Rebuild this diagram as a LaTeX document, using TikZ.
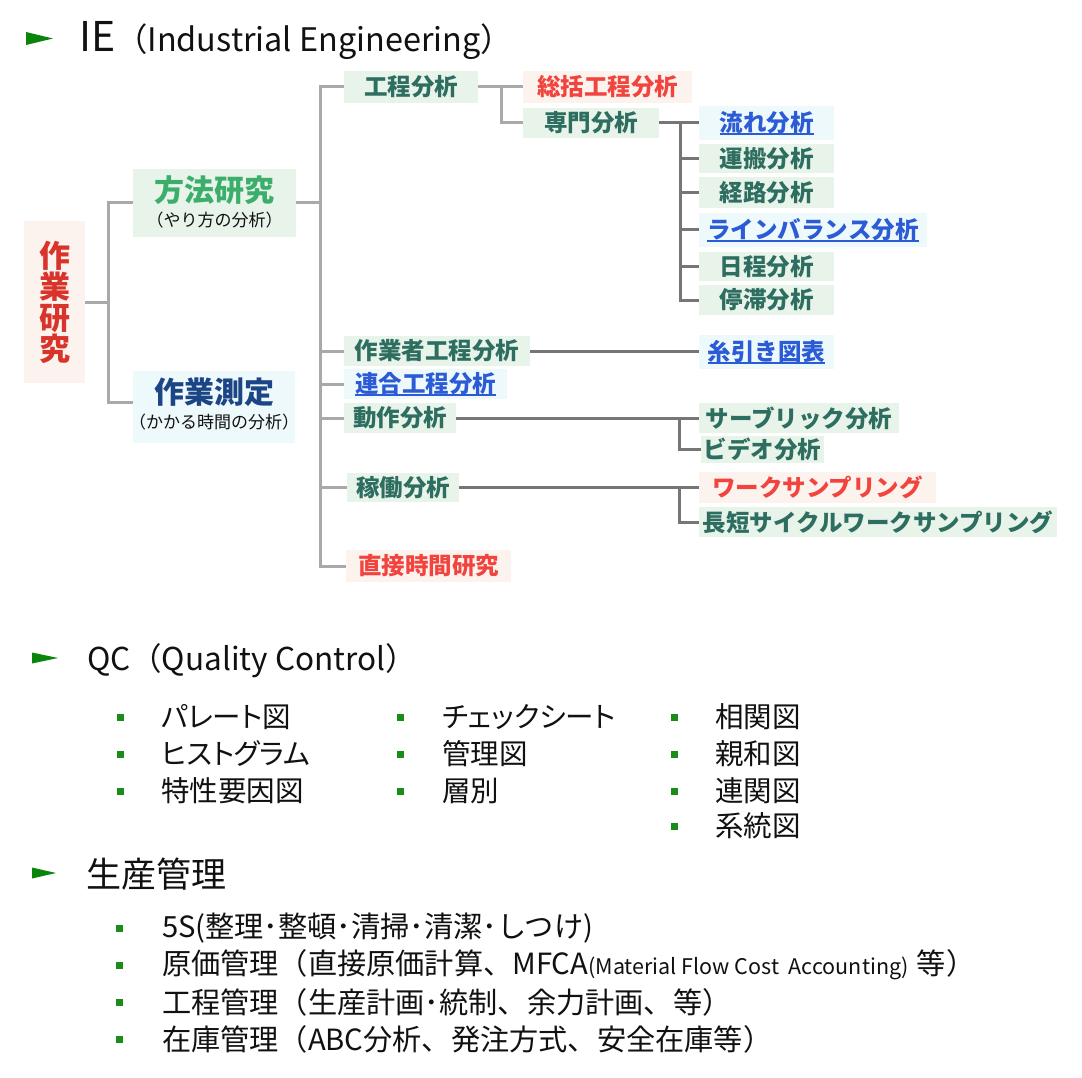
\documentclass[tikz,border=0pt]{standalone}
\usepackage{fontspec}
\setmainfont{Noto Sans CJK JP}
\newfontfamily\pfont{Noto Sans CJK JP}[RawFeature=+palt]
\newcommand\fs[1]{\fontsize{#1}{#1}\selectfont}
\newcommand\ulk[1]{\leavevmode\setbox0\hbox{#1}\rlap{\rule[-3.5pt]{\wd0}{1.8pt}}\box0}
\definecolor{bgG}{HTML}{E8F3EA}
\definecolor{bgP}{HTML}{FDF3EE}
\definecolor{bgB}{HTML}{EEF9FC}
\definecolor{tealT}{HTML}{2E6E60}
\definecolor{redT}{HTML}{F2443F}
\definecolor{redD}{HTML}{D9342B}
\definecolor{blueT}{HTML}{2C5BD6}
\definecolor{greenT}{HTML}{3AAE6A}
\definecolor{navyT}{HTML}{1B4585}
\definecolor{lineL}{HTML}{A9A9A9}
\definecolor{lineD}{HTML}{767676}
\definecolor{arrG}{HTML}{0B840B}
\definecolor{bulG}{HTML}{1A8C1A}
\definecolor{txt}{HTML}{111111}
\tikzset{
  every node/.style={inner sep=0pt, outer sep=0pt},
  tbox/.style={fill=bgG, text=tealT, font=\fs{23.5}\bfseries},
  rbox/.style={fill=bgP, text=redT, font=\fs{23.5}\bfseries},
  bbox/.style={fill=bgB, text=blueT, font=\fs{23.5}\bfseries},
  lconn/.style={draw=lineL, line width=3pt},
  dconn/.style={draw=lineD, line width=3pt},
  item/.style={anchor=west, text=txt, font=\fs{29.2}},
  qitem/.style={anchor=west, text=txt, font=\pfont\fs{28.5}},
  bul/.style={fill=bulG, minimum size=7pt},
  head/.style={fill=arrG},
}
\begin{document}
\begin{tikzpicture}[x=1pt,y=-1pt]
\useasboundingbox (0,0) rectangle (1082,1078);
\fill[white] (0,0) rectangle (1082,1078);

% ---------- headings ----------
\fill[head] (26,32) -- (53,38.5) -- (26,45) -- cycle;
\node[anchor=base west, text=txt, font=\fs{41}] (ieT) at (79,52) {IE{\fs{32.4}（Industrial Engineering）}};
\fill[head] (32,652.5) -- (58,658) -- (32,663.5) -- cycle;
\node[anchor=base west, text=txt, font=\fs{31.5}] (qcT) at (87,670) {QC（Quality Control）};
\fill[head] (32,867.5) -- (56,873) -- (32,878.5) -- cycle;
\node[anchor=west, text=txt, font=\fs{35}] (spT) at (86,874) {生産管理};

% ---------- IE tree ----------
\node[fill=bgP, text=redD, font=\fontsize{31}{31}\selectfont\bfseries, align=center,
      minimum width=61, minimum height=162] (sagyo) at (54.5,302) {作\\業\\研\\究};

\node[fill=bgG, minimum width=163, minimum height=68] (houhou) at (214.5,203) {};
\node[align=center, text=txt, font=\fontsize{17}{25}\selectfont] (houhouT) at (214.5,201.7)
  {{\fontsize{30}{25}\selectfont\bfseries\color{greenT}方法研究}\\（やり方の分析）};

\node[fill=bgB, minimum width=162, minimum height=72] (sokutei) at (214,407) {};
\node[align=center, text=txt, font=\fontsize{17}{25}\selectfont] (sokuteiT) at (214,403.7)
  {{\fontsize{30}{25}\selectfont\bfseries\color{navyT}作業測定}\\（かかる時間の分析）};

\node[tbox, minimum width=134, minimum height=32] (koutei) at (411,87) {工程分析};
\node[rbox, minimum width=169, minimum height=32] (soukatsu) at (607.5,87) {総括工程分析};
\node[tbox, minimum width=136, minimum height=30] (senmon) at (591,123) {専門分析};

\node[bbox, minimum width=135, minimum height=34] (nagare) at (766.5,123) {\ulk{流れ分析}};
\node[tbox, minimum width=135, minimum height=29] (unpan) at (766.5,158.5) {運搬分析};
\node[tbox, minimum width=135, minimum height=31] (keiro) at (766.5,192.5) {経路分析};
\node[bbox, minimum width=228, minimum height=34] (lineb) at (813,230) {\ulk{ラインバランス分析}};
\node[tbox, minimum width=135, minimum height=29] (nittei) at (766.5,266.5) {日程分析};
\node[tbox, minimum width=135, minimum height=30] (teitai) at (766.5,300) {停滞分析};

\node[tbox, minimum width=186, minimum height=30] (sagyosha) at (437,351) {作業者工程分析};
\node[bbox, minimum width=163, minimum height=30] (rengou) at (425.5,384) {\ulk{連合工程分析}};
\node[tbox, minimum width=112, minimum height=30] (dousa) at (400,418) {動作分析};
\node[tbox, minimum width=112, minimum height=29] (kadou) at (403,487.5) {稼働分析};
\node[rbox, minimum width=165, minimum height=32] (chokusetsu) at (428.5,566) {直接時間研究};

\node[bbox, minimum width=135, minimum height=34] (itobiki) at (766.5,352) {\ulk{糸引き図表}};
\node[tbox, minimum width=200, minimum height=30] (therblig) at (799,418) {サーブリック分析};
\node[tbox, minimum width=123, minimum height=27] (video) at (762.5,449.5) {ビデオ分析};
\node[rbox, minimum width=237, minimum height=31] (worksamp) at (817.5,487.5) {ワークサンプリング};
\node[tbox, minimum width=358, minimum height=30] (choutan) at (878,522) {長短サイクルワークサンプリング};

% ---------- connectors ----------
\coordinate (j0) at (108,302.5);
\coordinate (j0b) at (108,402);
\draw[lconn] (sagyo.east |- j0) -- (j0);
\draw[lconn] (houhou.west) -| (j0b) -- (sokutei.west |- j0b);

\coordinate (m0) at (320,87);
\coordinate (m1) at (320,566);
\draw[lconn] (houhou.east) -- (houhou.east -| m0);
\draw[lconn] (koutei.west) -| (m1) -- (chokusetsu.west);
\draw[lconn] (m0 |- sagyosha.west) -- (sagyosha.west);
\draw[lconn] (m0 |- rengou.west) -- (rengou.west);
\draw[lconn] (m0 |- dousa.west) -- (dousa.west);
\draw[lconn] (m0 |- kadou.west) -- (kadou.west);

\coordinate (k0) at (501,87);
\draw[lconn] (koutei.east) -- (soukatsu.west);
\draw[lconn] (k0) |- (senmon.west);

\coordinate (s0) at (680,123);
\draw[dconn] (senmon.east) -- (nagare.west);
\draw[dconn] (s0) |- (teitai.west);
\draw[dconn] (s0 |- unpan.west) -- (unpan.west);
\draw[dconn] (s0 |- keiro.west) -- (keiro.west);
\draw[dconn] (s0 |- lineb.west) -- (lineb.west);
\draw[dconn] (s0 |- nittei.west) -- (nittei.west);

\draw[dconn] (sagyosha.east) -- (itobiki.west |- sagyosha.east);

\coordinate (d0) at (679,418);
\draw[dconn] (dousa.east) -- (therblig.west);
\draw[dconn] (d0) |- (video.west);

\coordinate (w0) at (679,487.5);
\draw[dconn] (kadou.east) -- (worksamp.west);
\draw[dconn] (w0) |- (choutan.west);

% ---------- QC list ----------
\node[bul] (qb1) at (120,717) {};  \node[qitem] (q1) at (161,717) {パレート図};
\node[bul] (qb2) at (120,754) {};  \node[qitem] (q2) at (161,754) {ヒストグラム};
\node[bul] (qb3) at (120,791) {};  \node[qitem] (q3) at (161,791) {特性要因図};
\node[bul] (qb4) at (400,717) {};  \node[qitem] (q4) at (442,717) {チェックシート};
\node[bul] (qb5) at (400,754) {};  \node[qitem] (q5) at (442,754) {管理図};
\node[bul] (qb6) at (400,791) {};  \node[qitem] (q6) at (442,791) {層別};
\node[bul] (qb7) at (674,717) {};  \node[qitem] (q7) at (715,717) {相関図};
\node[bul] (qb8) at (674,754) {};  \node[qitem] (q8) at (715,754) {親和図};
\node[bul] (qb9) at (674,791) {};  \node[qitem] (q9) at (715,791) {連関図};
\node[bul] (qb10) at (674,826) {}; \node[qitem] (q10) at (715,826) {系統図};

% ---------- production management list ----------
\node[bul] (pb1) at (119,928) {};  \node[item] (p1) at (162,928) {5S(整理･整頓･清掃･清潔･しつけ)};
\node[bul] (pb2) at (119,965) {};  \node[item] (p2) at (162,965) {原価管理（直接原価計算、MFCA{\fs{21.5}(Material Flow Cost\ \ Accounting)}\hspace{8pt}等）};
\node[bul] (pb3) at (119,1002) {}; \node[item] (p3) at (162,1002) {工程管理（生産計画･統制、余力計画、等）};
\node[bul] (pb4) at (119,1039) {}; \node[item] (p4) at (162,1039) {在庫管理（ABC分析、発注方式、安全在庫等）};
\end{tikzpicture}
\end{document}
